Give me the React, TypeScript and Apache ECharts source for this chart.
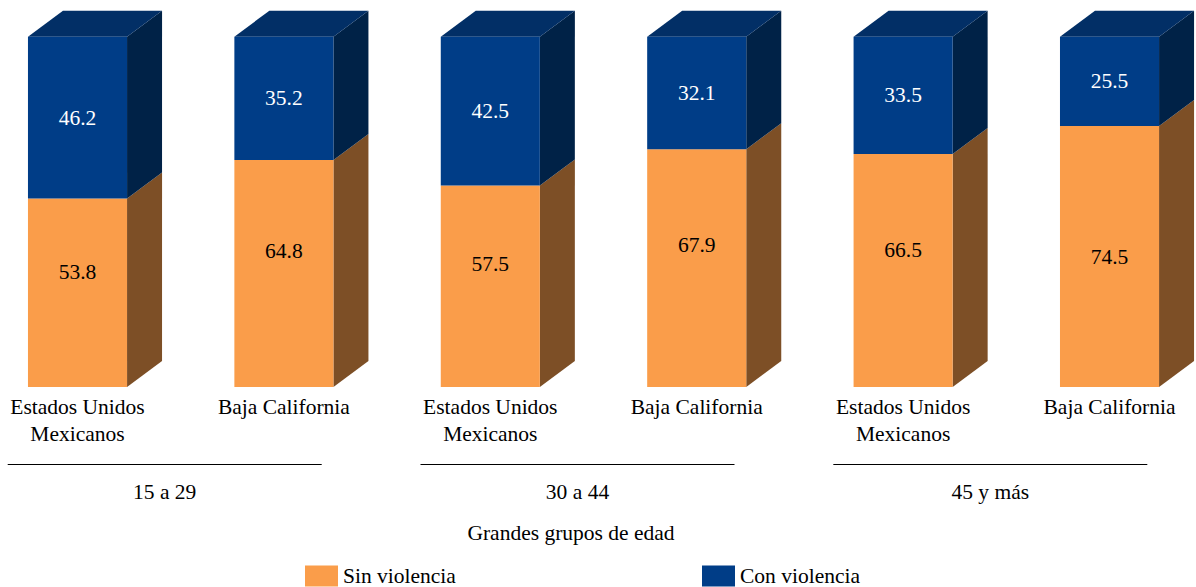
import React, { useEffect, useRef } from "react";
import * as echarts from "echarts";

const categories = [
  "Estados Unidos\nMexicanos",
  "Baja California",
  "Estados Unidos\nMexicanos",
  "Baja California",
  "Estados Unidos\nMexicanos",
  "Baja California",
];
const groups = ["15 a 29", "30 a 44", "45 y más"];
const sinViolencia = [53.8, 64.8, 57.5, 67.9, 66.5, 74.5];
const conViolencia = [46.2, 35.2, 42.5, 32.1, 33.5, 25.5];
const axisTitle = "Grandes grupos de edad";
const seriesNames = ["Sin violencia", "Con violencia"];

// style constants
const FONT = "'Liberation Serif', 'Times New Roman', serif";
const FS = 21.5;
const ORANGE = "#FA9D4A";
const BROWN = "#7D4F26";
const BLUE = "#003D87";
const BLUE_SIDE = "#002247";
const BLUE_TOP = "#022F66";
const BAR_W = 0.48;
const DX = 35;
const DY = 26;
const sinLabelShift = [-21, -23, -22, -23, -21, 0];

export default function App() {
  const ref = useRef<HTMLDivElement>(null);
  useEffect(() => {
    if (!ref.current) return;
    const chart = echarts.init(ref.current, null, { renderer: "svg" });
    const textBase = { fontFamily: FONT, fontSize: FS, align: "center" };
    const legendBase = {
      padding: 0,
      itemWidth: 33,
      itemHeight: 21,
      icon: "rect",
      textStyle: { fontFamily: FONT, fontSize: FS, color: "#000", lineHeight: 20 },
    };
    const option = {
      animation: false,
      textStyle: { fontFamily: FONT },
      grid: { left: 0, right: 0, top: 36.7, bottom: 200 },
      xAxis: { type: "value", min: -0.3755, max: 5.419, show: false },
      yAxis: { type: "value", min: 0, max: 100, show: false },
      legend: [
        { ...legendBase, data: [seriesNames[0]], left: 305, top: 565 },
        { ...legendBase, data: [seriesNames[1]], left: 702, top: 565 },
      ],
      graphic: [
        {
          type: "text",
          x: 571,
          y: 533,
          style: {
            text: axisTitle,
            fontFamily: FONT,
            fontSize: FS,
            fill: "#000",
            align: "center",
            verticalAlign: "middle",
          },
        },
      ],
      series: [
        {
          name: seriesNames[0],
          type: "custom",
          itemStyle: { color: ORANGE },
          data: sinViolencia.map((v, i) => [i, v]),
          renderItem: (params: any, api: any) => {
            const i = api.value(0);
            const v = api.value(1);
            const [cx, y0] = api.coord([i, 0]);
            const y1 = api.coord([i, v])[1];
            const w = api.size([BAR_W, 0])[0];
            const l = cx - w / 2;
            const r = cx + w / 2;
            return {
              type: "group",
              children: [
                {
                  type: "polygon",
                  shape: { points: [[r, y0], [r + DX, y0 - DY], [r + DX, y1 - DY], [r, y1]] },
                  style: { fill: BROWN },
                },
                {
                  type: "rect",
                  shape: { x: l, y: y1, width: w, height: y0 - y1 },
                  style: { fill: ORANGE },
                },
                {
                  type: "text",
                  style: {
                    ...textBase,
                    text: v.toFixed(1),
                    x: cx,
                    y: (y0 + y1) / 2 + sinLabelShift[i],
                    verticalAlign: "middle",
                    fill: "#000",
                  },
                },
                {
                  type: "text",
                  style: {
                    ...textBase,
                    text: categories[i],
                    x: cx,
                    y: y0 + 6.5,
                    verticalAlign: "top",
                    lineHeight: 27,
                    fill: "#000",
                  },
                },
              ],
            };
          },
        },
        {
          name: seriesNames[1],
          type: "custom",
          itemStyle: { color: BLUE },
          data: conViolencia.map((v, i) => [i, sinViolencia[i], v]),
          renderItem: (params: any, api: any) => {
            const i = api.value(0);
            const s = api.value(1);
            const c = api.value(2);
            const cx = api.coord([i, 0])[0];
            const y1 = api.coord([i, s])[1];
            const y2 = api.coord([i, s + c])[1];
            const w = api.size([BAR_W, 0])[0];
            const l = cx - w / 2;
            const r = cx + w / 2;
            return {
              type: "group",
              children: [
                {
                  type: "polygon",
                  shape: { points: [[r, y1], [r + DX, y1 - DY], [r + DX, y2 - DY], [r, y2]] },
                  style: { fill: BLUE_SIDE },
                },
                {
                  type: "polygon",
                  shape: { points: [[l, y2], [l + DX, y2 - DY], [r + DX, y2 - DY], [r, y2]] },
                  style: { fill: BLUE_TOP },
                },
                {
                  type: "rect",
                  shape: { x: l, y: y2, width: w, height: y1 - y2 },
                  style: { fill: BLUE },
                },
                {
                  type: "text",
                  style: {
                    ...textBase,
                    text: c.toFixed(1),
                    x: cx,
                    y: (y1 + y2) / 2,
                    verticalAlign: "middle",
                    fill: "#fff",
                  },
                },
              ],
            };
          },
        },
        {
          name: "grupos",
          type: "custom",
          silent: true,
          data: groups.map((g, k) => [2 * k + 0.5, 0]),
          renderItem: (params: any, api: any) => {
            const [gx, y0] = api.coord([api.value(0), 0]);
            const cx = gx - 16;
            return {
              type: "group",
              children: [
                {
                  type: "line",
                  shape: { x1: cx - 157, y1: y0 + 77.5, x2: cx + 157, y2: y0 + 77.5 },
                  style: { stroke: "#000", lineWidth: 1 },
                },
                {
                  type: "text",
                  style: {
                    ...textBase,
                    text: groups[params.dataIndex],
                    x: cx,
                    y: y0 + 105,
                    verticalAlign: "middle",
                    fill: "#000",
                  },
                },
              ],
            };
          },
        },
      ],
    };
    chart.setOption(option as any);
    return () => chart.dispose();
  }, []);
  return (
    <div
      ref={ref}
      style={{ position: "fixed", left: 0, top: 0, width: 1196, height: 587, background: "#fff" }}
    />
  );
}
